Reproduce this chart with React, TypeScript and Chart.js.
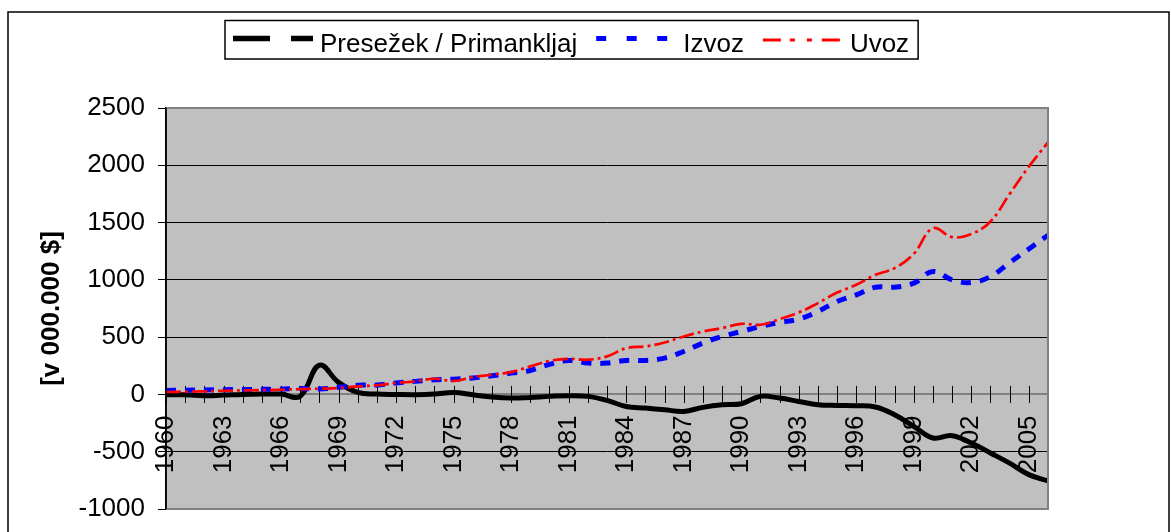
import React, { useEffect, useRef } from 'react';
import { Chart, registerables } from 'chart.js';

Chart.register(...registerables);

const years = [
  '1960', '1961', '1962', '1963', '1964', '1965', '1966', '1967', '1968', '1969',
  '1970', '1971', '1972', '1973', '1974', '1975', '1976', '1977', '1978', '1979',
  '1980', '1981', '1982', '1983', '1984', '1985', '1986', '1987', '1988', '1989',
  '1990', '1991', '1992', '1993', '1994', '1995', '1996', '1997', '1998', '1999',
  '2000', '2001', '2002', '2003', '2004', '2005', '2006',
];

const presezek = [
  -3, -3, -11, -6, 0, 3, 3, -15, 255, 105,
  17, 3, 0, -2, 3, 17, -3, -23, -32, -26,
  -17, -11, -17, -52, -105, -119, -134, -148, -113, -90,
  -81, -17, -32, -61, -90, -96, -99, -110, -177, -279,
  -380, -360, -424, -511, -600, -700, -755,
];

const izvoz = [
  35, 37, 39, 41, 43, 45, 47, 52, 47, 62,
  80, 82, 100, 114, 127, 133, 143, 163, 186, 209,
  262, 297, 274, 274, 297, 297, 317, 375, 448, 506,
  549, 593, 628, 657, 724, 811, 869, 936, 936, 971,
  1073, 1000, 977, 1029, 1150, 1270, 1390,
];

const uvoz = [
  21, 24, 27, 32, 35, 38, 41, 46, 50, 56,
  70, 80, 100, 114, 137, 117, 151, 172, 195, 245,
  293, 311, 303, 332, 404, 419, 453, 506, 549, 579,
  616, 608, 657, 715, 797, 889, 957, 1044, 1102, 1227,
  1451, 1373, 1400, 1509, 1750, 1988, 2201,
];

const seriesNames = ['Presežek / Primankljaj', 'Izvoz', 'Uvoz'];
const yTitle = '[v 000.000 $]';
const yMin = -1000;
const yMax = 2500;
const yStep = 500;
const labelEvery = 3;

const FONT = "'Liberation Sans', Arial, Helvetica, sans-serif";

// legend sample dash patterns (as drawn in the legend of the reference)
const legendDashes = [[37, 21], [10, 20.5], [18, 9, 5, 12, 5, 10]];
const legendWidths = [5.5, 5, 3];

export default function App() {
  const ref = useRef<HTMLCanvasElement>(null);

  useEffect(() => {
    const canvas = ref.current;
    if (!canvas) return;

    const bgPlugin = {
      id: 'bgPlot',
      beforeDraw(chart: any) {
        const { ctx, chartArea: a, width, height } = chart;
        ctx.save();
        ctx.fillStyle = '#ffffff';
        ctx.fillRect(0, 0, width, height);
        ctx.fillStyle = '#C0C0C0';
        ctx.fillRect(a.left, a.top, a.right - a.left, a.bottom - a.top);
        ctx.restore();
      },
    };

    const crossTicks = {
      id: 'crossTicks',
      beforeDatasetsDraw(chart: any) {
        const { ctx } = chart;
        const xs = chart.scales.x;
        const ys = chart.scales.y;
        const y0 = ys.getPixelForValue(0);
        ctx.save();
        ctx.strokeStyle = '#000';
        ctx.lineWidth = 1;
        ctx.beginPath();
        for (let i = 0; i < chart.data.labels.length; i++) {
          const px = Math.round(xs.getPixelForTick(i)) + 0.5;
          ctx.moveTo(px, y0 - 8.5);
          ctx.lineTo(px, y0 + 8.5);
        }
        ctx.stroke();
        ctx.restore();
      },
    };

    const framePlugin = {
      id: 'frame',
      afterDatasetsDraw(chart: any) {
        const { ctx, chartArea: a } = chart;
        ctx.save();
        ctx.strokeStyle = '#808080';
        ctx.lineWidth = 2;
        ctx.beginPath();
        ctx.moveTo(a.left, a.top);
        ctx.lineTo(a.right, a.top);
        ctx.lineTo(a.right, a.bottom);
        ctx.lineTo(a.left, a.bottom);
        ctx.stroke();
        ctx.strokeStyle = '#000';
        ctx.lineWidth = 1.5;
        ctx.beginPath();
        ctx.moveTo(a.left, a.top);
        ctx.lineTo(a.left, a.bottom);
        ctx.stroke();
        ctx.restore();
      },
      afterDraw(chart: any) {
        const { ctx } = chart;
        ctx.save();
        ctx.strokeStyle = '#000';
        ctx.lineWidth = 1.5;
        ctx.strokeRect(8, 12, 1161, 600);

        ctx.font = `26px ${FONT}`;
        const sampleW = 80;
        const textGap = 7;
        const itemGap = 19;
        const padL = 8;
        const padR = 9;
        const widths = chart.data.datasets.map((d: any) => ctx.measureText(d.label).width);
        let total = padL + padR;
        widths.forEach((w: number, i: number) => {
          total += sampleW + textGap + w + (i < widths.length - 1 ? itemGap : 0);
        });
        const boxL = 225;
        const boxT = 20.5;
        const boxH = 38.5;
        ctx.fillStyle = '#fff';
        ctx.fillRect(boxL, boxT, total, boxH);
        ctx.strokeStyle = '#000';
        ctx.lineWidth = 1.5;
        ctx.strokeRect(boxL, boxT, total, boxH);
        let x = boxL + padL;
        chart.data.datasets.forEach((d: any, i: number) => {
          ctx.save();
          ctx.strokeStyle = d.borderColor;
          ctx.lineWidth = legendWidths[i];
          ctx.setLineDash(legendDashes[i]);
          ctx.lineCap = 'butt';
          ctx.beginPath();
          const ly = i === 2 ? 40 : 38.5;
          ctx.moveTo(x, ly);
          ctx.lineTo(x + sampleW, ly);
          ctx.stroke();
          ctx.restore();
          ctx.fillStyle = '#000';
          ctx.textBaseline = 'alphabetic';
          ctx.textAlign = 'left';
          ctx.fillText(d.label, x + sampleW + textGap, 51.5);
          x += sampleW + textGap + widths[i] + itemGap;
        });
        ctx.restore();
      },
    };

    const chart = new Chart(canvas, {
      type: 'line',
      data: {
        labels: years,
        datasets: [
          {
            label: seriesNames[0],
            data: presezek,
            borderColor: '#000000',
            borderWidth: 5,
            tension: 0.4,
            pointRadius: 0,
            fill: false,
            order: 3,
          },
          {
            label: seriesNames[1],
            data: izvoz,
            borderColor: '#0000FF',
            borderWidth: 5,
            borderDash: [10, 9],
            tension: 0.4,
            pointRadius: 0,
            fill: false,
            order: 2,
          },
          {
            label: seriesNames[2],
            data: uvoz,
            borderColor: '#FF0000',
            borderWidth: 2.7,
            borderDash: [15, 4, 3, 4],
            tension: 0.4,
            pointRadius: 0,
            fill: false,
            order: 1,
          },
        ],
      },
      options: {
        responsive: false,
        animation: false,
        devicePixelRatio: 1,
        layout: { padding: { left: 0, top: 108, right: 123, bottom: 23 } },
        plugins: {
          legend: { display: false },
          tooltip: { enabled: false },
          title: { display: false },
        },
        scales: {
          x: {
            type: 'category',
            position: { y: 0 },
            offset: false,
            grid: { display: true, drawOnChartArea: false, drawTicks: false },
            border: { display: true, color: '#808080', width: 2 },
            ticks: {
              autoSkip: false,
              minRotation: 90,
              maxRotation: 90,
              padding: 21,
              color: '#000',
              font: { family: FONT, size: 26 },
              callback: (_v: any, i: number) => (i % labelEvery === 0 ? years[i] : ''),
            },
            afterFit: (s: any) => {
              s.height = 0;
              s.paddingLeft = 0;
              s.paddingRight = 0;
              s.paddingTop = 0;
              s.paddingBottom = 0;
            },
          },
          y: {
            type: 'linear',
            position: 'left',
            min: yMin,
            max: yMax,
            ticks: {
              stepSize: yStep,
              padding: 13,
              color: '#000',
              font: { family: FONT, size: 26 },
              callback: (v: any) => String(v),
            },
            grid: {
              color: (c: any) => {
                const v = c.tick ? c.tick.value : null;
                if (v === 0 || v === yMin || v === yMax) return 'rgba(0,0,0,0)';
                return '#000';
              },
              lineWidth: 1,
              drawTicks: true,
              tickLength: 8,
              tickColor: '#000',
              tickWidth: 1,
            },
            border: { display: true, color: '#000', width: 1.5 },
            title: {
              display: true,
              text: yTitle,
              color: '#000',
              font: { family: FONT, size: 26, weight: 'bold' },
              padding: { top: 36, bottom: 0 },
            },
            afterFit: (s: any) => {
              s.width = 166;
              s.paddingTop = 0;
              s.paddingBottom = 0;
            },
          },
        },
      },
      plugins: [bgPlugin, crossTicks, framePlugin],
    } as any);

    return () => {
      chart.destroy();
    };
  }, []);

  return (
    <div style={{ position: 'absolute', left: 0, top: 0, width: 1171, height: 532 }}>
      <canvas ref={ref} width={1171} height={532} style={{ display: 'block', width: 1171, height: 532 }} />
    </div>
  );
}
